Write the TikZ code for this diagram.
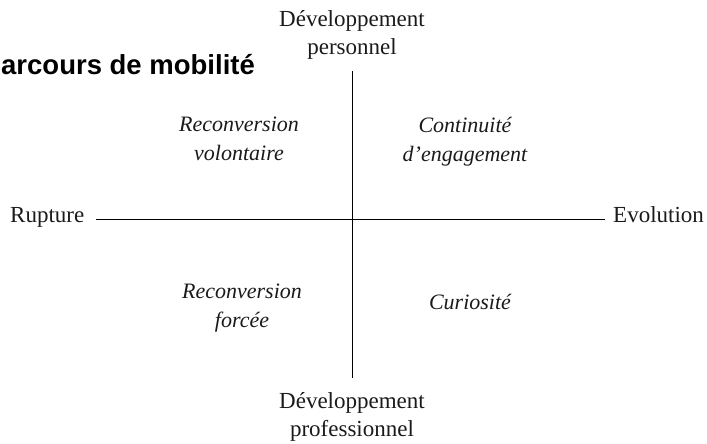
\documentclass[tikz,border=0pt]{standalone}
\usepackage{fontspec}
\setmainfont{Liberation Serif}
\newfontfamily\titlefont{Liberation Sans}
\usepackage{xcolor}
\definecolor{textdark}{HTML}{1A1A1A}
\usepackage{tikz}
\usetikzlibrary{positioning,calc}

\begin{document}
\begin{tikzpicture}[x=1pt, y=1pt,
    axlabel/.style={font=\fontsize{23}{28}\selectfont, text=textdark, inner sep=0pt, align=center},
    quad/.style={font=\fontsize{22}{29}\selectfont\itshape, text=textdark, inner sep=0pt, align=center},
    ttl/.style={font=\titlefont\bfseries\fontsize{27.5}{33}\selectfont, text=black, inner sep=0pt},
    axline/.style={draw=black, line width=1pt}
  ]
    \useasboundingbox (0,0) rectangle (707,444);
    \node[ttl, anchor=base west] (title) at (1,369) {arcours de mobilité};

    % axes labels
    \node[axlabel, anchor=north] (perso) at (352,434) {Développement\\personnel};
    \node[axlabel, anchor=north] (pro) at (352,52) {Développement\\professionnel};
    \node[axlabel, anchor=base west] (rupture) at (10,221) {Rupture};
    \node[axlabel, anchor=base west] (evolution) at (613,221) {Evolution};

    \draw[axline] ([yshift=-12pt]perso.south) -- ([yshift=14pt]pro.north);
    \draw[axline] ([shift={(12pt,3pt)}]rupture.base east) -- ([shift={(-8pt,3pt)}]evolution.base west);

    % quadrants
    \node[quad, anchor=north] (volont) at (239,327) {Reconversion\\volontaire};
    \node[quad, anchor=north] (contin) at (465,327) {Continuité\\d’engagement};
    \node[quad, anchor=north] (forcee) at (242,160) {Reconversion\\forcée};
    \node[quad, anchor=base] (curio) at (470,134) {Curiosité};
  \end{tikzpicture}
\end{document}
